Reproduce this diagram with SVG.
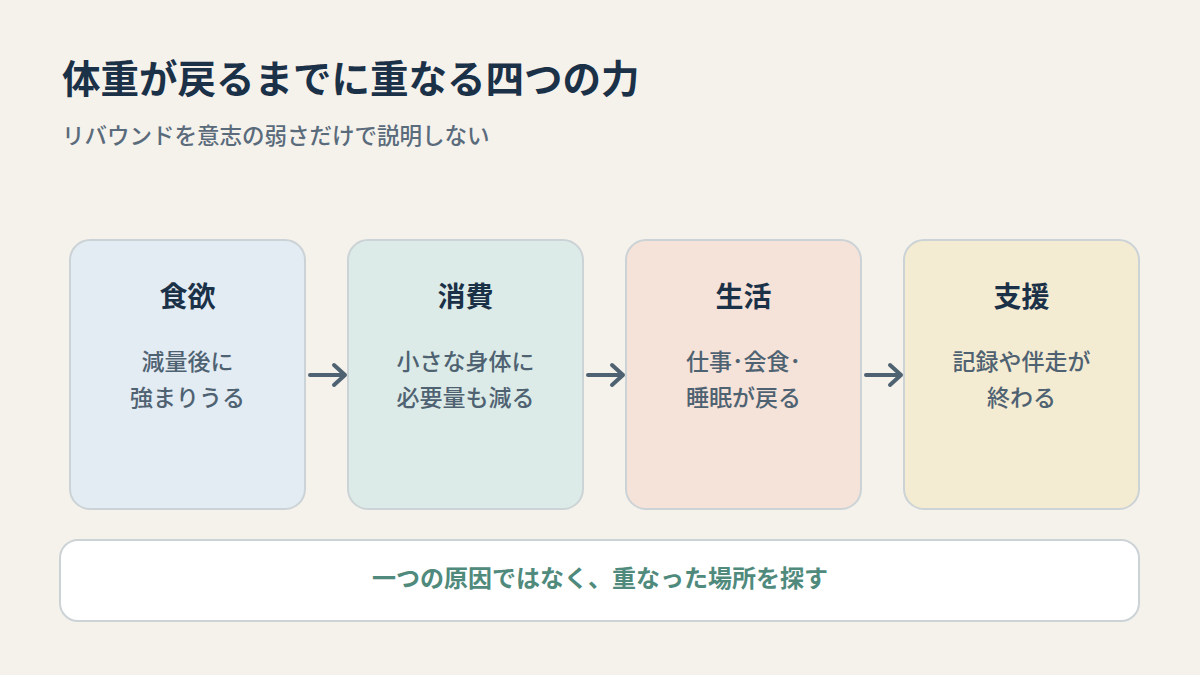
<svg xmlns="http://www.w3.org/2000/svg" width="1200" height="675" viewBox="0 0 1200 675">
<defs>
<style>
text{font-family:"Noto Sans CJK JP","Noto Sans",sans-serif}
.title{font-size:38.5px;font-weight:700;fill:#1b3148}
.sub{font-size:22.5px;font-weight:500;fill:#5a6b7b}
.card{stroke:#ccd3d6;stroke-width:2}
.head{font-size:28px;font-weight:700;fill:#1b3148;text-anchor:middle}
.body{font-size:23px;font-weight:500;fill:#4f6272;text-anchor:middle}
.conn{stroke:#4f6272;stroke-width:4;fill:none;stroke-linecap:round;stroke-linejoin:round}
.note{font-size:24px;font-weight:700;fill:#4f8a7c;text-anchor:middle}
</style>
</defs>
<rect width="1200" height="675" fill="#f5f2ec"/>
<text class="title" x="62" y="93">体重が戻るまでに重なる四つの力</text>
<text class="sub" x="62" y="144">リバウンドを意志の弱さだけで説明しない</text>
<g id="node-appetite">
<rect class="card" x="70" y="240" width="235" height="269" rx="20" fill="#e3ebf3"/>
<text class="head" x="187.5" y="307">食欲</text>
<text class="body" x="187.5" y="370">減量後に</text>
<text class="body" x="187.5" y="406">強まりうる</text>
</g>
<g id="node-consumption">
<rect class="card" x="348" y="240" width="235" height="269" rx="20" fill="#dcebe7"/>
<text class="head" x="465.5" y="307">消費</text>
<text class="body" x="465.5" y="370">小さな身体に</text>
<text class="body" x="465.5" y="406">必要量も減る</text>
</g>
<g id="node-life">
<rect class="card" x="626" y="240" width="235" height="269" rx="20" fill="#f5e2d8"/>
<text class="head" x="743.5" y="307">生活</text>
<text class="body" x="743.5" y="370">仕事･会食･</text>
<text class="body" x="743.5" y="406">睡眠が戻る</text>
</g>
<g id="node-support">
<rect class="card" x="904" y="240" width="235" height="269" rx="20" fill="#f4ecd2"/>
<text class="head" x="1021.5" y="307">支援</text>
<text class="body" x="1021.5" y="370">記録や伴走が</text>
<text class="body" x="1021.5" y="406">終わる</text>
</g>
<g id="connectors">
<path class="conn" d="M310 375H345M334 365L345 375L334 385"/>
<path class="conn" d="M588 375H623M612 365L623 375L612 385"/>
<path class="conn" d="M866 375H901M890 365L901 375L890 385"/>
</g>
<g id="node-summary">
<rect x="60" y="540" width="1079" height="81" rx="18" fill="#ffffff" stroke="#ccd3d6" stroke-width="2"/>
<text class="note" x="600" y="587">一つの原因ではなく、重なった場所を探す</text>
</g>
</svg>
